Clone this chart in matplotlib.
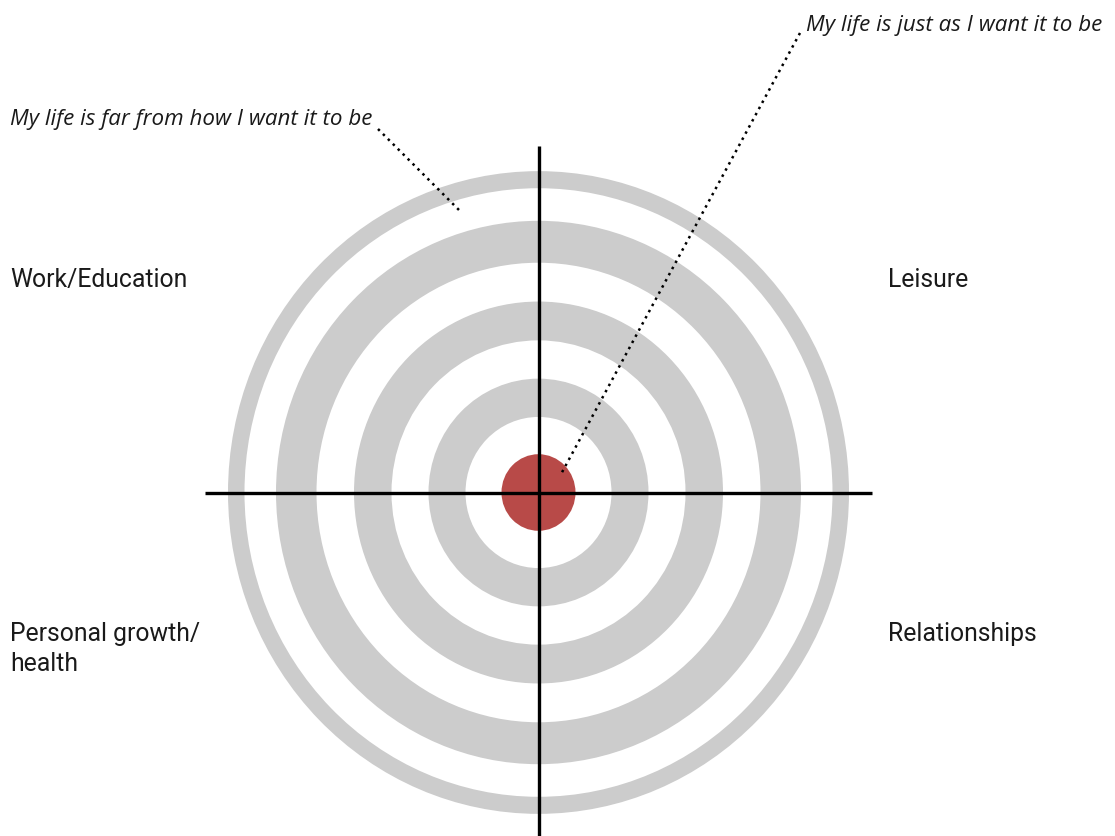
"""
Life-balance target chart
"""

import matplotlib.pyplot as plt
from matplotlib.patches import Ellipse

# ring boundaries (outer, inner), horizontal radius from the centre
ring_outer = [310.5, 262.5, 184.5, 110]
ring_inner = [294, 222, 147, 73]
bullseye_radius = 37
y_stretch = 1.035  # target is drawn slightly taller than wide

quadrant_labels = ['Work/Education', 'Leisure', 'Personal growth/\nhealth', 'Relationships']
far_label = 'My life is far from how I want it to be'
near_label = 'My life is just as I want it to be'

GRAY = '#cccccc'
RED = '#b84a48'
TEXT = '#1a1a1a'
LABEL_FONT = 'Roboto'
NOTE_FONT = 'Open Sans'

W, H = 1115, 836
cx, cy = 538.5, 492.5

fig = plt.figure(figsize=(W / 100, H / 100), dpi=100)
ax = fig.add_axes([0, 0, 1, 1])
ax.set_xlim(0, W)
ax.set_ylim(H, 0)
ax.axis('off')

# gray rings: gray disc then white disc on top
for r_out, r_in in zip(ring_outer, ring_inner):
    ax.add_patch(Ellipse((cx, cy), 2 * r_out, 2 * r_out * y_stretch,
                         facecolor=GRAY, edgecolor='none'))
    ax.add_patch(Ellipse((cx, cy), 2 * r_in, 2 * r_in * y_stretch,
                         facecolor='white', edgecolor='none'))

ax.add_patch(Ellipse((cx, cy), 2 * bullseye_radius, 2 * bullseye_radius * y_stretch,
                     facecolor=RED, edgecolor='none', zorder=2))

# cross hairs
ax.plot([205, 872], [cy, cy], color='black', linewidth=2.4, zorder=3, solid_capstyle='butt')
ax.plot([cx, cx], [146, H], color='black', linewidth=2.4, zorder=3, solid_capstyle='butt')

# quadrant labels
lab = dict(fontsize=17.8, family=LABEL_FONT, color=TEXT, va='center', ha='left')
ax.text(10, 280, quadrant_labels[0], **lab)
ax.text(888, 280, quadrant_labels[1], **lab)
ax.text(10, 649, quadrant_labels[2], linespacing=1.27, **lab)
ax.text(888, 634, quadrant_labels[3], **lab)

# annotations with dotted leader lines
note = dict(fontsize=16.1, family=NOTE_FONT, style='italic', color=TEXT, va='center', ha='left')
ax.text(10, 120, far_label, **note)
ax.plot([378, 459], [129, 210], color='black', linestyle=(0, (1, 1.8)), linewidth=1.8, zorder=4)

ax.text(806, 25, near_label, **note)
ax.plot([800, 560], [33, 476], color='black', linestyle=(0, (1, 1.8)), linewidth=1.8, zorder=4)

plt.savefig('out.png', dpi=100)
